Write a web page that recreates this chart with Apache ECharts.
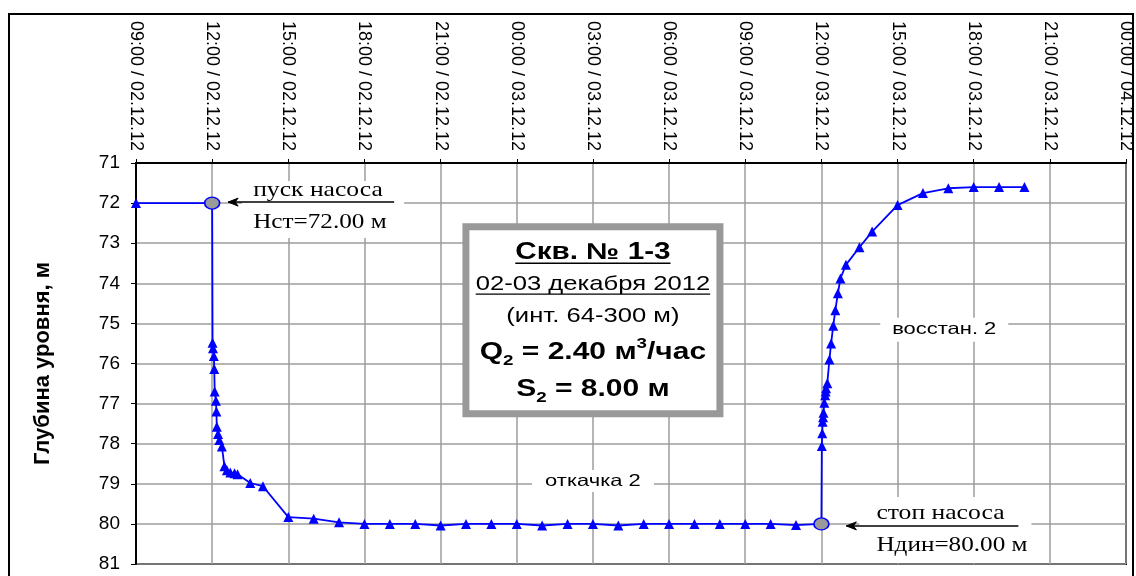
<!DOCTYPE html>
<html>
<head>
<meta charset="utf-8">
<script src="https://cdn.jsdelivr.net/npm/echarts@6/dist/echarts.min.js"></script>
<style>
  html, body { margin: 0; padding: 0; background: #fff; }
  #chart { width: 1136px; height: 576px; }
</style>
</head>
<body>
<div id="chart"></div>
<script>
// Water level in well 1-3, pumping and recovery test, 02-03 Dec 2012.
// Time stamps as "DD HH:MM" (December 2012), depth to water in metres.
const levelTimes = [
  '02 09:00', '02 12:00',
  '02 12:01', '02 12:02', '02 12:04', '02 12:05', '02 12:06', '02 12:09', '02 12:10',
  '02 12:11', '02 12:14', '02 12:17', '02 12:23', '02 12:29', '02 12:35', '02 12:43',
  '02 12:53', '02 13:00', '02 13:30', '02 14:00', '02 15:00', '02 16:00', '02 17:00',
  '02 18:00', '02 19:00', '02 20:00', '02 21:00', '02 22:00', '02 23:00', '03 00:00',
  '03 01:00', '03 02:00', '03 03:00', '03 04:00', '03 05:00', '03 06:00', '03 07:00',
  '03 08:00', '03 09:00', '03 10:00', '03 11:00', '03 12:00',
  '03 12:01', '03 12:02', '03 12:03', '03 12:04', '03 12:05', '03 12:07', '03 12:09',
  '03 12:10', '03 12:11', '03 12:14', '03 12:19', '03 12:23', '03 12:28', '03 12:33',
  '03 12:39', '03 12:45', '03 12:58', '03 13:30', '03 14:00', '03 15:00', '03 16:00',
  '03 17:00', '03 18:00', '03 19:00', '03 20:00'
];
const levelDepths = [
  72.00, 72.00,
  75.48, 75.62, 75.81, 76.14, 76.70, 76.93, 77.20,
  77.58, 77.76, 77.91, 78.07, 78.56, 78.66, 78.72,
  78.74, 78.76, 78.98, 79.06, 79.83, 79.87, 79.96,
  80.00, 80.00, 80.00, 80.04, 80.00, 80.00, 80.00,
  80.04, 80.00, 80.00, 80.04, 80.00, 80.00, 80.00,
  80.00, 80.00, 80.00, 80.03, 80.00,
  78.06, 77.74, 77.45, 77.34, 77.23, 76.98, 76.79,
  76.70, 76.62, 76.49, 75.90, 75.50, 75.06, 74.67,
  74.25, 73.88, 73.54, 73.10, 72.71, 72.05, 71.75,
  71.63, 71.60, 71.60, 71.60
];
// Pump switched on / off
const pumpEvents = ['02 12:00', '03 12:00'];

const timeTickLabels = [
  '09:00 / 02.12.12', '12:00 / 02.12.12', '15:00 / 02.12.12', '18:00 / 02.12.12',
  '21:00 / 02.12.12', '00:00 / 03.12.12', '03:00 / 03.12.12', '06:00 / 03.12.12',
  '09:00 / 03.12.12', '12:00 / 03.12.12', '15:00 / 03.12.12', '18:00 / 03.12.12',
  '21:00 / 03.12.12', '00:00 / 04.12.12'
];
const depthTicks = [71, 72, 73, 74, 75, 76, 77, 78, 79, 80, 81];

// hours counted from 00:00 on 02.12.12
function toHours(stamp) {
  const [day, hm] = stamp.split(' ');
  const [h, m] = hm.split(':').map(Number);
  return (Number(day) - 2) * 24 + h + m / 60;
}
const firstTickHour = toHours('02 09:00');
const tickStep = 3;

const SANS = "'Liberation Sans', Arial, sans-serif";
const SERIF = "'Liberation Serif', 'Times New Roman', serif";
const BLUE = '#0000ff';
const GRID_GREY = '#9c9c9c';

const seriesData = levelTimes.map((stamp, i) => {
  const point = [toHours(stamp), levelDepths[i]];
  if (pumpEvents.includes(stamp)) {
    return {
      value: point, symbol: 'circle', symbolSize: [15, 12],
      itemStyle: { color: '#9a9a9a', borderColor: BLUE, borderWidth: 1.5 }
    };
  }
  return point;
});

const chart = echarts.init(document.getElementById('chart'), null, { renderer: 'canvas' });

chart.setOption({
  animation: false,
  backgroundColor: '#fff',
  grid: {
    left: 136, top: 163, right: 10, bottom: 12,
    show: true, borderColor: '#000', borderWidth: 2, backgroundColor: 'transparent'
  },
  xAxis: {
    type: 'value', position: 'top',
    min: firstTickHour, max: firstTickHour + tickStep * (timeTickLabels.length - 1), interval: tickStep,
    axisLine: { show: true, onZero: false, lineStyle: { color: '#000', width: 2 } },
    axisTick: { show: true, length: 4, lineStyle: { color: '#000', width: 1 } },
    axisLabel: {
      rotate: 90, margin: 12, color: '#000', fontFamily: SANS, fontSize: 18,
      showMinLabel: true, showMaxLabel: true, hideOverlap: false,
      formatter: v => timeTickLabels[Math.round((v - firstTickHour) / tickStep)] || ''
    },
    splitLine: { show: true, lineStyle: { color: GRID_GREY, width: 1.5 } }
  },
  yAxis: {
    type: 'value', inverse: true,
    min: depthTicks[0], max: depthTicks[depthTicks.length - 1], interval: 1,
    name: 'Глубина уровня, м', nameLocation: 'middle', nameRotate: 90, nameGap: 82,
    nameTextStyle: { fontFamily: SANS, fontSize: 22, fontWeight: 'bold', color: '#000' },
    axisLine: { show: true, onZero: false, lineStyle: { color: '#000', width: 2 } },
    axisTick: { show: true, length: 5, lineStyle: { color: '#000', width: 1 } },
    axisLabel: { margin: 16, color: '#000', fontFamily: SANS, fontSize: 19 },
    splitLine: { show: true, lineStyle: { color: GRID_GREY, width: 1.5 } }
  },
  series: [{
    type: 'line',
    data: seriesData,
    symbol: 'triangle', symbolSize: 10,
    lineStyle: { color: BLUE, width: 1.8 },
    itemStyle: { color: BLUE },
    z: 5
  }]
});

// ---- annotations ----
const pxH = (hours, depth) => chart.convertToPixel({ gridIndex: 0 }, [hours, depth]);
const px = (stamp, depth) => pxH(toHours(stamp), depth);
const measureCtx = document.createElement('canvas').getContext('2d');
function textWidth(str, font) { measureCtx.font = font; return measureCtx.measureText(str).width; }

const graphics = [];

// outer chart frame
graphics.push({
  type: 'rect', shape: { x: 9, y: 14, width: 1124, height: 580 },
  style: { fill: null, stroke: '#000', lineWidth: 2 }, silent: true, z: 200
});

function whiteBox(x, y, w, h) {
  graphics.push({ type: 'rect', shape: { x, y, width: w, height: h }, style: { fill: '#fff' }, z: 100 });
}
function text(x, y, str, style, stretch) {
  graphics.push({
    type: 'text', x, y, scaleX: stretch || 1.2, z: 110,
    style: Object.assign({ text: str, fill: '#000', align: 'center', verticalAlign: 'middle' }, style)
  });
}
function line(x1, y1, x2, y2, width) {
  graphics.push({
    type: 'line', shape: { x1, y1, x2, y2 },
    style: { stroke: '#000', lineWidth: width || 1.5 }, z: 110
  });
}
function arrowLeft(tipX, y, endX) {
  line(tipX, y, endX, y, 1.5);
  graphics.push({
    type: 'polygon', shape: { points: [[tipX + 10, y - 4], [tipX, y], [tipX + 10, y + 4], [tipX + 7, y]] },
    style: { stroke: '#000', lineWidth: 1, fill: '#000' }, z: 111
  });
}

const serifFont = '21px ' + SERIF;

// pump start
const start = px(pumpEvents[0], levelDepths[levelTimes.indexOf(pumpEvents[0])]);
whiteBox(start[0] + 30, start[1] - 22, 162, 57);
arrowLeft(start[0] + 16, start[1] - 1, start[0] + 182);
text(start[0] + 41, start[1] - 13, 'пуск насоса', { font: serifFont, align: 'left' }, 1.22);
text(start[0] + 41, start[1] + 19, 'Нст=72.00 м', { font: serifFont, align: 'left' }, 1.2);

// pump stop
const stop = px(pumpEvents[1], levelDepths[levelTimes.indexOf(pumpEvents[1])]);
whiteBox(stop[0] + 38, stop[1] - 27, 172, 66);
arrowLeft(stop[0] + 25, stop[1] + 2, stop[0] + 197);
text(stop[0] + 55, stop[1] - 10, 'стоп насоса', { font: serifFont, align: 'left' }, 1.22);
text(stop[0] + 55, stop[1] + 22, 'Ндин=80.00 м', { font: serifFont, align: 'left' }, 1.2);

// phase labels
const pumpLbl = pxH(27, 78.93);
whiteBox(pumpLbl[0] - 61, pumpLbl[1] - 11, 122, 22);
text(pumpLbl[0], pumpLbl[1], 'откачка 2', { font: '16.5px ' + SANS }, 1.33);
const recLbl = pxH(40.84, 75.16);
whiteBox(recLbl[0] - 64, recLbl[1] - 12, 128, 24);
text(recLbl[0], recLbl[1], 'восстан. 2', { font: '16.5px ' + SANS }, 1.33);

// well info box
const boxC = pxH(27, 74.92);
const boxW = 261, boxH = 194, boxBorder = 7;
graphics.push({
  type: 'rect',
  shape: { x: boxC[0] - boxW / 2 + boxBorder / 2, y: boxC[1] - boxH / 2 + boxBorder / 2,
           width: boxW - boxBorder, height: boxH - boxBorder },
  style: { fill: '#fff', stroke: '#999999', lineWidth: boxBorder }, z: 100
});
const title = 'Скв. № 1-3';
const titleFont = 'bold 23px ' + SANS;
const titleStretch = 1.29;
text(boxC[0], boxC[1] - 68, title, { font: titleFont }, titleStretch);
const tw = textWidth(title, titleFont) * titleStretch;
line(boxC[0] - tw / 2, boxC[1] - 57, boxC[0] + tw / 2, boxC[1] - 57, 1.6);

const dates = '02-03 декабря 2012';
const plainFont = '21px ' + SANS;
const plainStretch = 1.22;
text(boxC[0], boxC[1] - 36, dates, { font: plainFont }, plainStretch);
const dw = textWidth(dates, plainFont) * plainStretch;
line(boxC[0] - dw / 2, boxC[1] - 26, boxC[0] + dw / 2, boxC[1] - 26, 1.2);

text(boxC[0], boxC[1] - 4, '(инт. 64-300 м)', { font: plainFont }, plainStretch);

// Q and S lines with subscript / superscript fragments
const richBold = {
  b: { fontFamily: SANS, fontWeight: 'bold', fontSize: 24, lineHeight: 32, verticalAlign: 'middle' },
  sub: { fontFamily: SANS, fontWeight: 'bold', fontSize: 15, lineHeight: 12, verticalAlign: 'bottom' },
  sup: { fontFamily: SANS, fontWeight: 'bold', fontSize: 15, lineHeight: 20, verticalAlign: 'top' }
};
text(boxC[0], boxC[1] + 32, '{b|Q}{sub|2}{b| = 2.40 м}{sup|3}{b|/час}', { rich: richBold }, 1.25);
text(boxC[0], boxC[1] + 69, '{b|S}{sub|2}{b| = 8.00 м}', { rich: richBold }, 1.25);

chart.setOption({ graphic: { elements: graphics } });
</script>
</body>
</html>
